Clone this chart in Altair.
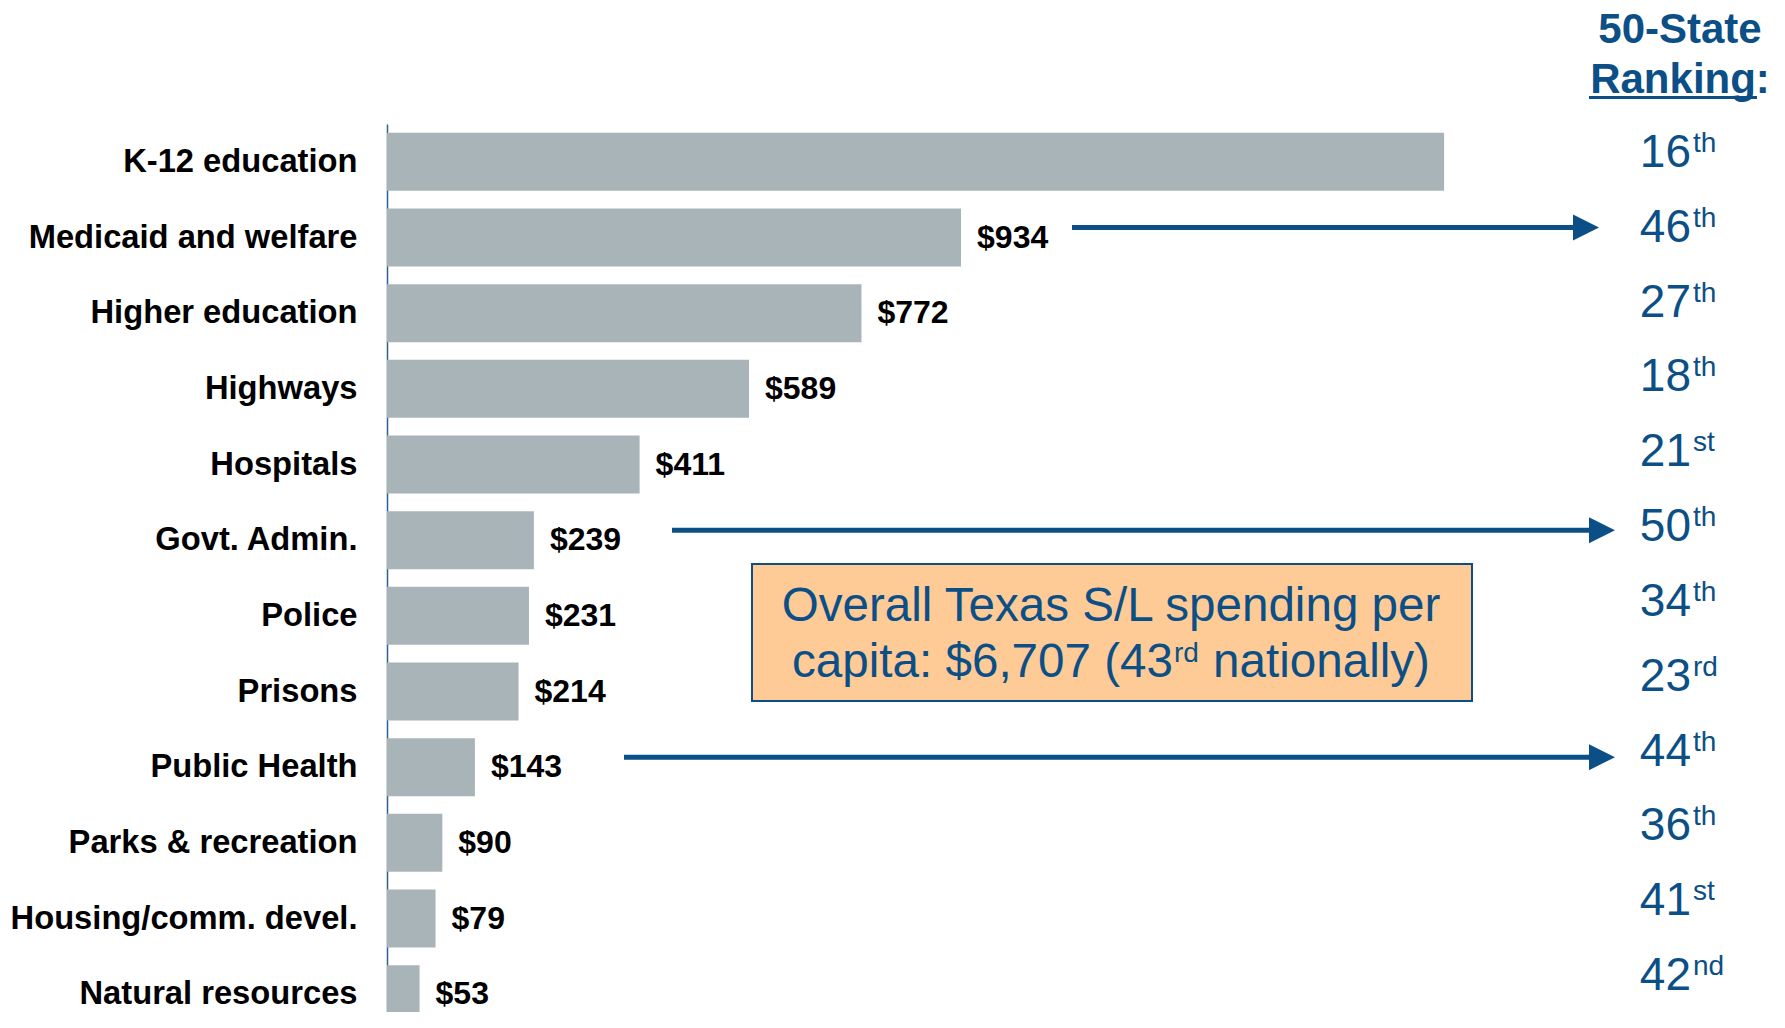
import altair as alt
import pandas as pd

# ---------------- data ----------------
categories = ["K-12 education", "Medicaid and welfare", "Higher education", "Highways",
              "Hospitals", "Govt. Admin.", "Police", "Prisons", "Public Health",
              "Parks & recreation", "Housing/comm. devel.", "Natural resources"]
spending = [1720, 934, 772, 589, 411, 239, 231, 214, 143, 90, 79, 53]
show_label = [False, True, True, True, True, True, True, True, True, True, True, True]
rank_numbers = ["16", "46", "27", "18", "21", "50", "34", "23", "44", "36", "41", "42"]
rank_suffixes = ["th", "th", "th", "th", "st", "th", "th", "rd", "th", "th", "st", "nd"]
arrow_rows = ["Medicaid and welfare", "Govt. Admin.", "Public Health"]
ranking_title = ["50-State", "Ranking:"]
box_line1 = "Overall Texas S/L spending per"
box_line2 = ["capita: $6,707 (43", "rd", "nationally)"]

df = pd.DataFrame({
    "category": categories,
    "spending": spending,
    "label": [f"${v}" if s else "" for v, s in zip(spending, show_label)],
    "rank": rank_numbers,
    "suffix": rank_suffixes,
})
one = pd.DataFrame({"k": [0]})

# ---------------- styles ----------------
BAR = "#A9B4B8"
BLUE = "#0B4F86"
FONT = "Liberation Sans"

xscale = alt.Scale(domain=[0, 1000], range=[0, 614.6], nice=False)
yscale = alt.Scale(domain=categories, range=[0, 908], paddingInner=0.234, paddingOuter=0.117)
rscale = alt.Scale(type="point", domain=categories, range=[43, 866], padding=0)

base = alt.Chart(df)

bars = base.mark_bar(color=BAR).encode(
    x=alt.X("spending:Q", scale=xscale, axis=None),
    y=alt.Y("category:N", sort=categories, scale=yscale,
            axis=alt.Axis(title=None, ticks=False, labelPadding=30, labelLimit=500,
                          labelFontSize=32.7, labelFontWeight="bold", labelColor="black",
                          labelFont=FONT, domainColor="#2F5F90", domainWidth=1.5,
                          grid=False)),
)

labels = base.mark_text(align="left", baseline="middle", dx=16, fontSize=32,
                        fontWeight="bold", color="black", font=FONT).encode(
    x=alt.X("spending:Q", scale=xscale, axis=None),
    y=alt.Y("category:N", sort=categories, scale=yscale, axis=None),
    text="label:N",
)

rank_num = base.mark_text(align="right", baseline="alphabetic", fontSize=46,
                          color=BLUE, font=FONT).encode(
    x=alt.value(1304),
    y=alt.Y("category:N", sort=categories, scale=rscale, axis=None),
    text="rank:N",
)
rank_suf = base.mark_text(align="left", baseline="alphabetic", fontSize=28, dy=-15,
                          color=BLUE, font=FONT).encode(
    x=alt.value(1306),
    y=alt.Y("category:N", sort=categories, scale=rscale, axis=None),
    text="suffix:N",
)

# arrows (start px, tip px relative to plot origin)
arrow_geom = [(685, 1212), (285, 1228), (237, 1228)]
arrow_layers = []
head_path = "M-1,-1L1,0L-1,1Z"
for row, (x0, tip) in zip(arrow_rows, arrow_geom):
    d = df[df["category"] == row]
    arrow_layers.append(
        alt.Chart(d).mark_rule(color=BLUE, strokeWidth=5, yOffset=-10).encode(
            y=alt.Y("category:N", sort=categories, scale=yscale, axis=None),
            x=alt.value(x0), x2=alt.value(tip - 20),
        )
    )
    arrow_layers.append(
        alt.Chart(d).mark_point(shape=head_path, size=676, filled=True, color=BLUE,
                                opacity=1, strokeWidth=0, yOffset=-10).encode(
            y=alt.Y("category:N", sort=categories, scale=yscale, axis=None),
            x=alt.value(tip - 13),
        )
    )

# ranking header
title1 = alt.Chart(one).mark_text(text=ranking_title[0], align="center", baseline="alphabetic",
                                  fontSize=42, fontWeight="bold", color=BLUE, font=FONT).encode(
    x=alt.value(1293), y=alt.value(-81))
title2 = alt.Chart(one).mark_text(text=ranking_title[1], align="center", baseline="alphabetic",
                                  fontSize=42, fontWeight="bold", color=BLUE, font=FONT).encode(
    x=alt.value(1293), y=alt.value(-31))
underline = alt.Chart(one).mark_rule(color=BLUE, strokeWidth=3).encode(
    x=alt.value(1202), x2=alt.value(1370), y=alt.value(-26.5))

# annotation box
box = alt.Chart(one).mark_rect(fill="#FECB97", stroke=BLUE, strokeWidth=2).encode(
    x=alt.value(365), x2=alt.value(1085), y=alt.value(440), y2=alt.value(577))
bl1 = alt.Chart(one).mark_text(text=box_line1, align="center", baseline="alphabetic",
                               fontSize=47.6, color=BLUE, font=FONT).encode(
    x=alt.value(724), y=alt.value(497))
bl2a = alt.Chart(one).mark_text(text=box_line2[0], align="left", baseline="alphabetic",
                                fontSize=47.6, color=BLUE, font=FONT).encode(
    x=alt.value(405), y=alt.value(553))
bl2b = alt.Chart(one).mark_text(text=box_line2[1], align="left", baseline="alphabetic",
                                fontSize=28, color=BLUE, font=FONT).encode(
    x=alt.value(787), y=alt.value(538))
bl2c = alt.Chart(one).mark_text(text=box_line2[2], align="left", baseline="alphabetic",
                                fontSize=47.6, color=BLUE, font=FONT).encode(
    x=alt.value(826), y=alt.value(553))

chart = alt.layer(
    bars, labels, rank_num, rank_suf, *arrow_layers,
    title1, title2, underline, box, bl1, bl2a, bl2b, bl2c,
).resolve_scale(y="independent").properties(
    width=1385, height=888,
    padding={"left": 379, "top": 116, "right": 0, "bottom": 0},
    autosize=alt.AutoSizeParams(type="none"),
    background="white",
    view=alt.ViewBackground(stroke="transparent", strokeWidth=0),
).configure_view(stroke="transparent", strokeWidth=0).configure(font=FONT)

chart.save("out.html", embed_options={"renderer": "svg", "actions": False})
